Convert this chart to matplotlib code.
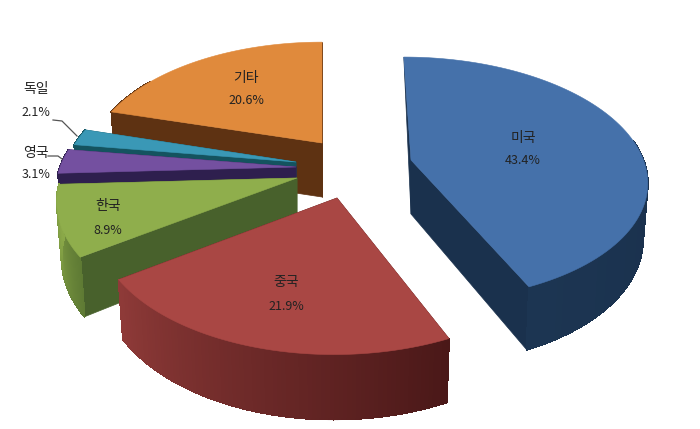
import numpy as np
import matplotlib
matplotlib.use("Agg")
import matplotlib.pyplot as plt
from matplotlib.patches import Polygon
from matplotlib.collections import PolyCollection, LineCollection
from matplotlib.colors import to_rgb

# --- data ---
categories = ["미국", "중국", "한국", "영국", "독일", "기타"]
shares = [43.4, 21.9, 8.9, 3.1, 2.1, 20.6]

# --- style / layout ---
apex_x = [411, 337, 297, 296, 296, 322]
apex_y = [160, 198, 178, 167, 162, 143]
shear = [0.07, -0.02, 0, 0, 0, 0]
persp = [0.155, 0.1875, 0.1875, 0.1875, 0.1875, 0.1875]
size_x = [0.985, 1.0, 1.0, 1.0, 0.975, 0.975]
size_y = [0.99, 1.03, 1.0, 1.0, 1.0, 0.97]
top_colors = ["#4571AA", "#A94744", "#8FAE4C", "#7450A0", "#3A98B6", "#E08A3C"]
cut_colors = ["#1A314D", "#5A1F1E", "#48612C", "#2E1F4E", "#14535F", "#5E3212"]
arc_from = ["#1A304C", "#4A1818", "#5E7A34", "#2E1F4E", "#14535F", "#5E3212"]
arc_to = ["#1C3552", "#8E3A38", "#8AA848", "#2E1F4E", "#14535F", "#5E3212"]
label_x = [523, 286, 108, 36, 36, 246]
label_y = [138, 282, 206, 153, 89, 78]
value_y = [160, 307, 231, 175, 113, 100]
draw_order = [5, 4, 3, 2, 1, 0]
leaders = {4: ([53, 62, 77], [120, 121, 136]), 3: ([48, 58, 62], [156, 156, 159])}
RX, RY, BASE_K = 236.0, 123.5, 0.1875
DEPTH, DX_S, DY_S = 54.0, 0.98, 0.07


def project(theta, k):
    """Perspective position of a rim point, relative to the apex."""
    t = np.radians(theta)
    xm, ym = np.sin(t), np.cos(t)
    w = 1 + k * ym
    return RX * xm / w, -RY * (1 + k) / (1 + BASE_K) * ym / w


def mix(c1, c2, f):
    a, b = np.array(to_rgb(c1)), np.array(to_rgb(c2))
    return tuple(a + (b - a) * f)


plt.rcParams["font.family"] = ["Noto Sans CJK KR", "DejaVu Sans"]
fig = plt.figure(figsize=(7.0, 4.29), dpi=100, facecolor="white")
ax = fig.add_axes([0, 0, 1, 1])
ax.set_xlim(0, 700)
ax.set_ylim(429, 0)
ax.axis("off")

edges = np.concatenate([[0], np.cumsum(np.array(shares) / sum(shares) * 360)])

for z, i in enumerate(draw_order):
    thetas = np.linspace(edges[i], edges[i + 1], 90)
    dx, dy = project(thetas, persp[i])
    dx, dy = dx * size_x[i], dy * size_y[i]
    x0, y0 = apex_x[i], apex_y[i]
    tx = x0 + dx + shear[i] * dy
    ty = y0 + dy
    bx = x0 + (dx + shear[i] * dy) * DX_S
    by = y0 + DEPTH + dy + np.abs(dy) * DY_S * (dy > 0)

    base = z * 10
    # radial cut faces; a cut pointing straight back only shows as a sliver
    for k in (0, -1):
        pts = [(x0, y0), (tx[k], ty[k]), (bx[k], by[k]), (x0, y0 + DEPTH)]
        if dy[k] < -60:
            del pts[2]
        ax.add_patch(Polygon(pts, closed=True, fc=cut_colors[i], ec=cut_colors[i], lw=0.5, zorder=base))
    # curved rim, shaded strip by strip; the far right part of the rim is hidden
    quads = [[(tx[j], ty[j]), (tx[j + 1], ty[j + 1]), (bx[j + 1], by[j + 1]), (bx[j], by[j])]
             for j in range(len(thetas) - 1) if not (dy[j] < -20 and dx[j] > 0) and dy[j] > -60]
    cols = [mix(arc_from[i], arc_to[i], j / max(len(quads) - 1, 1)) for j in range(len(quads))]
    ax.add_collection(PolyCollection(quads, facecolors=cols, edgecolors=cols, linewidths=0.7,
                                     antialiased=False, zorder=base + 1))
    rim = [[q[3], q[2]] for q in quads]
    ax.add_collection(LineCollection(rim, colors=cols, linewidths=0.8, zorder=base + 1))
    # top face
    ax.add_patch(Polygon(np.column_stack([np.r_[x0, tx], np.r_[y0, ty]]), closed=True,
                         fc=top_colors[i], ec=top_colors[i], lw=0.4, zorder=base + 2))

for i, name in enumerate(categories):
    ax.text(label_x[i], label_y[i], name, ha="center", va="center", fontsize=10, color="#222222", zorder=100)
    ax.text(label_x[i], value_y[i], f"{shares[i]}%", ha="center", va="center", fontsize=9, color="#222222", zorder=100)

for xs, ys in leaders.values():
    ax.plot(xs, ys, color="#555555", lw=0.9, zorder=100)

fig.savefig("out.png", dpi=100, facecolor="white")
